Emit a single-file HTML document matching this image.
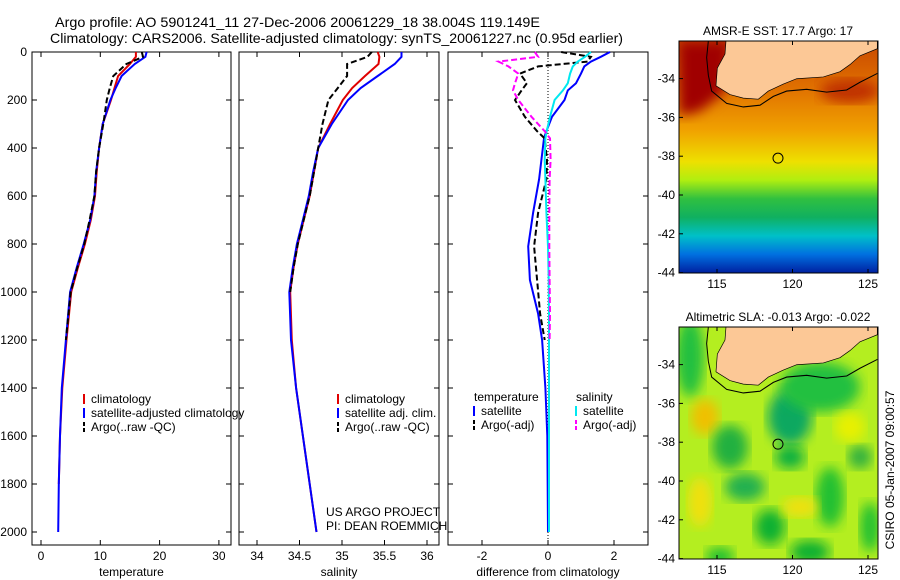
<!DOCTYPE html>
<html><head><meta charset="utf-8">
<style>
html,body{margin:0;padding:0;background:#fff;}
svg{display:block;font-family:"Liberation Sans",sans-serif;}
</style></head>
<body>
<svg id="fig" width="900" height="580" viewBox="0 0 900 580">
<defs>
<linearGradient id="sstg" x1="0" y1="0" x2="0" y2="1">
<stop offset="0" stop-color="#c84800"/><stop offset="0.2" stop-color="#e07000"/>
<stop offset="0.38" stop-color="#f0a000"/><stop offset="0.52" stop-color="#eee000"/>
<stop offset="0.6" stop-color="#b0ee10"/><stop offset="0.68" stop-color="#30c040"/>
<stop offset="0.76" stop-color="#10b060"/><stop offset="0.84" stop-color="#00c0c8"/>
<stop offset="0.92" stop-color="#0070e0"/><stop offset="1" stop-color="#0020a0"/>
</linearGradient>
<filter id="blur"><feGaussianBlur stdDeviation="6"/></filter>
<clipPath id="clipTop"><rect x="679" y="41" width="199" height="232"/></clipPath>
<clipPath id="clipBot"><rect x="679" y="327" width="199" height="232"/></clipPath>
</defs>
<text x="55" y="27" font-size="14" textLength="485" lengthAdjust="spacingAndGlyphs">Argo profile: AO 5901241_11 27-Dec-2006 20061229_18 38.004S 119.149E</text>
<text x="50" y="43" font-size="14" textLength="573" lengthAdjust="spacingAndGlyphs">Climatology: CARS2006. Satellite-adjusted climatology: synTS_20061227.nc (0.95d earlier)</text>
<g id="panels"></g>
<g id="maps"></g>
<text transform="translate(894,470) rotate(-90)" font-size="12" text-anchor="middle">CSIRO 05-Jan-2007 09:00:57</text>
</svg>
<script>
// ---- data ----
const tDepth = [0,20,50,100,150,200,300,400,500,600,700,800,900,1000,1200,1400,1600,1800,2000];
const tClim  = [16.0,16.0,15.0,13.0,12.4,11.8,10.4,9.8,9.4,9.1,8.4,7.4,6.2,5.1,4.3,3.6,3.2,3.0];
const tSat   = [17.8,17.6,15.8,13.6,12.6,11.7,10.4,9.8,9.3,9.0,8.3,7.2,6.0,4.9,4.2,3.5,3.2,3.0,2.9];
const tArgo  = [17.0,17.2,14.4,12.2,11.6,11.1,10.5,9.8,9.3,9.0,8.2,7.3,6.1,5.0,4.2];
const sClim  = [35.42,35.44,35.43,35.27,35.12,35.01,34.86,34.72,34.67,34.62,34.55,34.48,34.43,34.39,34.41,34.46,34.54,34.62,34.70];
const sSat   = [35.70,35.70,35.62,35.42,35.22,35.07,34.88,34.72,34.66,34.61,34.54,34.47,34.42,34.38,34.40,34.46,34.54,34.62,34.70];
const sArgo  = [35.35,35.30,35.06,35.06,34.95,34.84,34.77,34.72,34.67,34.62,34.55,34.48,34.43,34.39];
const dDepth = [0,20,40,60,90,130,160,200,270,330,360,450,530,670,810,950,1090,1200,1400,1600,2000];
const dTSat  = [1.88,1.6,1.3,1.1,1.0,0.85,0.6,0.5,0.12,-0.05,-0.12,-0.2,-0.27,-0.45,-0.6,-0.55,-0.3,-0.18,-0.08,-0.02,0.0];
const dTArgo = [0.4,1.3,1.2,-0.3,-0.85,-0.64,-0.8,-1.0,-0.7,-0.33,-0.1,-0.03,-0.05,-0.3,-0.42,-0.33,-0.24,-0.1];
const dSSat  = [1.3,1.12,0.9,0.75,0.67,0.6,0.45,0.2,0.06,-0.04,-0.08,-0.1,-0.08,-0.05,0.0,0.02,0.03,0.03,0.03,0.03,0.03];
const dSArgo = [-0.4,-0.3,-1.5,-1.2,-0.9,-1.0,-1.06,-0.9,-0.5,-0.1,0.06,0.08,0.05,0.04,0.04,0.05,0.06,0.05];
const depthTicks = [0,200,400,600,800,1000,1200,1400,1600,1800,2000];
const tTicks = [0,10,20,30];
const sTicks = [34,34.5,35,35.5,36];
const dTicks = [-2,0,2];
const latTicks = [-34,-36,-38,-40,-42,-44];
const lonTicks = [115,120,125];

const NS="http://www.w3.org/2000/svg";
function el(tag,attrs,parent){const e=document.createElementNS(NS,tag);for(const k in attrs)e.setAttribute(k,attrs[k]);parent.appendChild(e);return e;}
const P=document.getElementById('panels');
const yD = d => 52 + d*0.24;
const panels = [
 {x0:32,x1:231,f:v=>41+(v)*5.93,ticks:tTicks,label:'temperature',name:'temperature'},
 {x0:239,x1:439,f:v=>257+(v-34)*85,ticks:sTicks,label:'salinity',name:'salinity'},
 {x0:448,x1:648,f:v=>548+v*33,ticks:dTicks,label:'difference from climatology',name:'difference'}
];
panels.forEach((p,i)=>{
  const g=el('g',{},P);
  
  
  const fr=el('rect',{x:p.x0,y:52,width:p.x1-p.x0,height:493,fill:'none',stroke:'#000','stroke-width':1},g);
  
  
  depthTicks.forEach(d=>{
    const y=yD(d);
    el('line',{x1:p.x0,x2:p.x0+5,y1:y,y2:y,stroke:'#000'},g);
    el('line',{x1:p.x1-5,x2:p.x1,y1:y,y2:y,stroke:'#000'},g);
    if(i===0){const t=el('text',{x:27,y:y+4,'font-size':12,'text-anchor':'end'},g);t.textContent=d;
      
      }
  });
  p.ticks.forEach(v=>{
    const x=p.f(v);
    el('line',{x1:x,x2:x,y1:52,y2:57,stroke:'#000'},g);
    el('line',{x1:x,x2:x,y1:540,y2:545,stroke:'#000'},g);
    const t=el('text',{x:x,y:560,'font-size':12,'text-anchor':'middle'},g);t.textContent=v;
    
    
  });
  const xl=el('text',{x:(p.x0+p.x1)/2,y:576,'font-size':12,'text-anchor':'middle'},g);xl.textContent=p.label;
  
  
  p.g=g;
});
function line(g,xs,ds,f,color,w,dash,name){
  let d='';xs.forEach((v,i)=>{d+=(i?'L':'M')+f(v).toFixed(1)+','+yD(ds[i]).toFixed(1);});
  const a={d:d,fill:'none',stroke:color,'stroke-width':w};if(dash)a['stroke-dasharray']=dash;
  const e=el('path',a,g);
  
  
}
const [p1,p2,p3]=panels;
line(p1.g,tClim,tDepth,p1.f,'#e00000',2,null,'temp-climatology-line');
line(p1.g,tSat,tDepth,p1.f,'#0000ff',2,null,'temp-satellite-line');
line(p1.g,tArgo,tDepth,p1.f,'#000',2,'6,3','temp-argo-line');
line(p2.g,sClim,tDepth,p2.f,'#e00000',2,null,'sal-climatology-line');
line(p2.g,sSat,tDepth,p2.f,'#0000ff',2,null,'sal-satellite-line');
line(p2.g,sArgo,tDepth,p2.f,'#000',2,'6,3','sal-argo-line');
const zl=el('line',{x1:548,x2:548,y1:52,y2:545,stroke:'#000','stroke-dasharray':'1,2'},p3.g);


line(p3.g,dTSat,dDepth,p3.f,'#0000ff',2,null,'diff-temp-satellite-line');
line(p3.g,dTArgo,dDepth,p3.f,'#000',2,'6,3','diff-temp-argo-line');
line(p3.g,dSSat,dDepth,p3.f,'#00e8f0',2,null,'diff-sal-satellite-line');
line(p3.g,dSArgo,dDepth,p3.f,'#ff00ff',2,'6,3','diff-sal-argo-line');
function legend(g,x,y,items,name){
  items.forEach((it,i)=>{
    const yy=y+i*14;
    if(it.c){const l=el('line',{x1:x,x2:x,y1:yy-9,y2:yy+1,stroke:it.c,'stroke-width':2},g);
      if(it.dash)l.setAttribute('stroke-dasharray','4,2');
      
      }
    const t=el('text',{x:x+(it.c?7:0),y:yy,'font-size':12},g);t.textContent=it.t;
    
    
  });
}
legend(p1.g,84,403,[{c:'#e00000',t:'climatology'},{c:'#0000ff',t:'satellite-adjusted climatology'},{c:'#000',dash:1,t:'Argo(..raw -QC)'}],'temp-legend');
legend(p2.g,338,403,[{c:'#e00000',t:'climatology'},{c:'#0000ff',t:'satellite adj. clim.'},{c:'#000',dash:1,t:'Argo(..raw -QC)'}],'sal-legend');
legend(p3.g,474,401,[{t:'temperature'},{c:'#0000ff',t:'satellite'},{c:'#000',dash:1,t:'Argo(-adj)'}],'diff-temp-legend');
legend(p3.g,576,401,[{t:'    salinity'},{c:'#00e8f0',t:'satellite'},{c:'#ff00ff',dash:1,t:'Argo(-adj)'}],'diff-sal-legend');
const c1=el('text',{x:326,y:516,'font-size':12},p2.g);c1.textContent='US ARGO PROJECT';


const c2=el('text',{x:326,y:530,'font-size':12},p2.g);c2.textContent='PI: DEAN ROEMMICH';



// ---- maps ----
const M=document.getElementById('maps');
const land="M258,33 L255,70 L232,110 L228,160 L270,185 L310,195 L355,198 L385,175 L430,155 L470,140 L550,135 L600,120 L630,100 L660,75 L712,55 L712,33 Z";
const coast="M205,33 L200,80 L205,130 L215,175 L260,210 L310,220 L360,215 L400,190 L440,175 L500,170 L560,178 L620,172 L660,150 L712,125";
function map(top,kind){
  const g=el('g',{},M);
  
  
  const y0=top, lat=v=>y0+(-34-v)*19.4+37.6, lon=v=>717+(v-115)*15.1;
  const cg=el('g',{'clip-path':kind==='sst'?'url(#clipTop)':'url(#clipBot)'},g);
  if(kind==='sst'){
    el('rect',{x:679,y:y0,width:199,height:232,fill:'url(#sstg)'},cg);
    el('path',{d:`M679,${y0} L730,${y0} L725,${y0+50} L700,${y0+70} L679,${y0+75} Z`,fill:'#a00000',filter:'url(#blur)'},cg);
    el('ellipse',{cx:850,cy:y0+50,rx:30,ry:12,fill:'#c03000',filter:'url(#blur)'},cg);
  } else {
    el('rect',{x:679,y:y0,width:199,height:232,fill:'#b4ee20'},cg);
    const bl=[[690,30,14,40,'#20c040'],[705,90,14,18,'#f0c000'],[730,120,18,22,'#20b040'],[745,160,20,14,'#20b050'],[790,90,22,28,'#10a860'],[820,60,40,25,'#20c040'],[770,200,15,18,'#10b030'],[830,170,14,30,'#20c030'],[860,130,12,12,'#30b040'],[720,230,14,10,'#20c030'],[810,225,20,12,'#10b030'],[870,200,10,25,'#20c030'],[790,130,15,12,'#10b040'],[700,175,12,25,'#f0e010'],[800,180,18,10,'#f0e010'],[850,100,15,15,'#e8f000']];
    bl.forEach(b=>el('ellipse',{cx:b[0],cy:y0+b[1],rx:b[2],ry:b[3],fill:b[4],filter:'url(#blur)'},cg));
  }
  const lg=el('g',{transform:`translate(640,${y0-11.7}) scale(0.3333,0.353)`},cg);
  const ld=el('path',{d:land,fill:'#fcc896',stroke:'#000','stroke-width':2},lg);
  
  
  el('path',{d:coast,fill:'none',stroke:'#000','stroke-width':3},lg);
  const fr=el('rect',{x:679,y:y0,width:199,height:232,fill:'none',stroke:'#000'},g);
  
  
  const ci=el('circle',{cx:778,cy:lat(-38.1),r:5,fill:'none',stroke:'#000'},g);
  
  
  latTicks.forEach(v=>{const y=lat(v);el('line',{x1:679,x2:683,y1:y,y2:y,stroke:'#000'},g);
    const t=el('text',{x:675,y:y+4,'font-size':12,'text-anchor':'end'},g);t.textContent=v;
    
    });
  lonTicks.forEach(v=>{const x=lon(v);el('line',{x1:x,x2:x,y1:y0,y2:y0+4,stroke:'#000'},g);el('line',{x1:x,x2:x,y1:y0+228,y2:y0+232,stroke:'#000'},g);
    const t=el('text',{x:x,y:y0+247,'font-size':12,'text-anchor':'middle'},g);t.textContent=v;
    
    });
  const tt=el('text',{x:778,y:y0-6,'font-size':12,'text-anchor':'middle'},g);
  tt.textContent = kind==='sst'?'AMSR-E SST: 17.7 Argo: 17':'Altimetric SLA: -0.013 Argo: -0.022';
  
  
}
map(41,'sst');
map(327,'sla');
</script>
</body></html>
